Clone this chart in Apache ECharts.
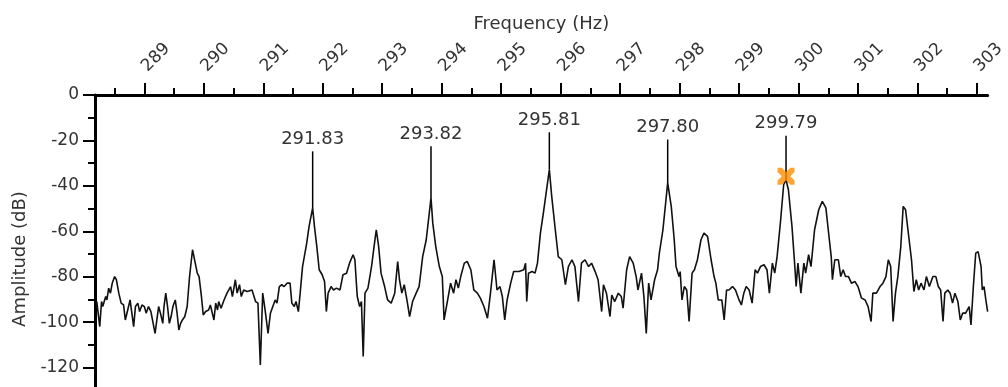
<!DOCTYPE html>
<html>
<head>
<meta charset="utf-8">
<script src="https://cdn.jsdelivr.net/npm/echarts@6/dist/echarts.min.js"></script>
<style>
  html, body { margin: 0; padding: 0; background: #fff; }
  #chart { width: 1008px; height: 387px; }
</style>
</head>
<body>
<div id="chart"></div>
<script>
// spectrum
const freqHz = [
  288.20, 288.25, 288.28, 288.30, 288.35, 288.37, 288.40, 288.43, 288.46, 288.50,
  288.53, 288.57, 288.61, 288.65, 288.68, 288.72, 288.76, 288.79, 288.82, 288.85,
  288.89, 288.92, 288.96, 289.00, 289.03, 289.07, 289.11, 289.18, 289.21, 289.24,
  289.27, 289.31, 289.33, 289.36, 289.39, 289.42, 289.45, 289.48, 289.52, 289.55,
  289.58, 289.61, 289.64, 289.68, 289.72, 289.76, 289.81, 289.84, 289.89, 289.92,
  289.96, 289.99, 290.03, 290.08, 290.11, 290.17, 290.20, 290.23, 290.25, 290.29,
  290.34, 290.39, 290.45, 290.48, 290.53, 290.56, 290.60, 290.63, 290.67, 290.73,
  290.81, 290.87, 290.91, 290.95, 290.99, 291.03, 291.08, 291.12, 291.16, 291.20,
  291.23, 291.27, 291.31, 291.35, 291.40, 291.45, 291.48, 291.52, 291.55, 291.59,
  291.62, 291.66, 291.69, 291.73, 291.77, 291.83, 291.86, 291.90, 291.94, 291.99,
  292.03, 292.06, 292.09, 292.14, 292.18, 292.21,
  292.23, 292.29, 292.34, 292.40, 292.45, 292.51, 292.54, 292.58, 292.62, 292.65,
  292.68, 292.71, 292.76, 292.82, 292.87, 292.90, 292.94, 292.98, 293.04, 293.09,
  293.15, 293.21, 293.26, 293.29, 293.33, 293.37, 293.42, 293.46, 293.51, 293.57,
  293.62, 293.68, 293.74, 293.82, 293.85, 293.90, 293.96, 294.01, 294.04, 294.10,
  294.15, 294.20, 294.24, 294.28, 294.32, 294.38, 294.43, 294.49, 294.54, 294.60,
  294.65, 294.71, 294.77, 294.82, 294.88, 294.93, 294.98, 295.02, 295.06, 295.10,
  295.16, 295.21, 295.30, 295.38, 295.41, 295.43, 295.46, 295.52, 295.57, 295.61,
  295.66, 295.71, 295.81, 295.85, 295.91, 295.96, 296.02, 296.08, 296.13, 296.19,
  296.24, 296.30, 296.35, 296.41, 296.47, 296.52, 296.58, 296.63, 296.69, 296.72,
  296.77, 296.83, 296.86, 296.91, 296.97, 297.02, 297.05, 297.11, 297.16, 297.22,
  297.27, 297.30, 297.36, 297.40, 297.44, 297.48, 297.52, 297.58, 297.63,
  297.66, 297.72, 297.80, 297.86, 297.91, 297.94, 297.99, 298.01, 298.04, 298.08,
  298.12, 298.16, 298.21, 298.25, 298.30, 298.36, 298.41, 298.47, 298.53, 298.58,
  298.61, 298.65, 298.71, 298.75, 298.79, 298.83, 298.89, 298.94, 299.00, 299.04,
  299.08, 299.12, 299.17, 299.22, 299.27, 299.31, 299.36, 299.42, 299.47, 299.51,
  299.56, 299.60, 299.64, 299.70, 299.75, 299.79, 299.83, 299.89, 299.93, 299.96,
  299.99, 300.04, 300.09, 300.12, 300.17, 300.21, 300.27, 300.34, 300.40, 300.46,
  300.50, 300.55, 300.57, 300.61, 300.67, 300.71, 300.75, 300.79, 300.84, 300.89,
  300.95, 301.00, 301.06, 301.12, 301.17, 301.22, 301.25, 301.31, 301.37, 301.42,
  301.47, 301.51, 301.55, 301.59, 301.63, 301.67, 301.72, 301.76, 301.80, 301.84,
  301.90, 301.94, 301.98, 302.02, 302.06, 302.11, 302.15, 302.20, 302.26, 302.31,
  302.35, 302.39, 302.43, 302.46, 302.51, 302.55, 302.59, 302.63, 302.68, 302.72,
  302.76, 302.81, 302.87, 302.90, 302.94, 302.98, 303.02, 303.07, 303.09, 303.12,
  303.15, 303.18
];
const ampDb = [
  -90.9, -101.9, -90.9, -93.1, -88.7, -90.2, -85.0, -87.2, -82.8, -79.9,
  -81.3, -87.2, -91.6, -92.4, -99.0, -94.6, -90.2, -90.9, -101.9, -93.1,
  -91.6, -95.3, -92.4, -93.1, -96.0, -93.1, -95.3, -104.9, -99.0, -93.1,
  -96.0, -100.5, -93.1, -87.2, -93.1, -100.5, -97.5, -93.1, -90.2, -96.0,
  -103.4, -100.5, -99.0, -97.5, -93.1, -79.9, -68.1, -67.4, -78.4, -79.9,
  -88.7, -96.8, -95.3, -94.6, -92.4, -99.0, -91.6, -94.6, -90.9, -93.8,
  -90.2, -87.2, -84.3, -88.7, -81.3, -87.2, -83.5, -88.7, -85.8, -86.5,
  -85.8, -90.9, -91.6, -118.8, -87.2, -94.6, -104.9, -96.0, -93.1, -90.2,
  -91.6, -84.3, -83.5, -84.3, -82.8, -82.8, -91.6, -93.1, -90.9, -95.3,
  -87.2, -75.5, -74.7, -65.2, -57.8, -49.7, -57.8, -66.7, -76.9, -79.1,
  -82.1, -95.3, -87.2, -84.3, -85.8, -85.0,
  -85.0, -85.8, -79.1, -78.4, -74.0, -70.3, -72.5, -88.7, -93.1, -90.9,
  -115.1, -87.2, -85.0, -75.5, -65.2, -59.3, -66.7, -78.4, -84.3, -90.2,
  -91.6, -87.2, -73.3, -81.3, -87.2, -83.5, -90.9, -97.5, -90.9, -87.2,
  -84.3, -71.1, -63.7, -45.3, -56.4, -66.7, -75.5, -79.9, -99.0, -90.2,
  -82.8, -87.2, -81.3, -85.0, -79.9, -74.0, -73.3, -76.9, -85.8, -87.2,
  -89.4, -93.1, -98.2, -87.2, -72.5, -85.8, -84.3, -88.7, -99.0, -90.2,
  -82.8, -77.7, -77.7, -76.9, -74.0, -90.9, -78.4, -77.7, -78.4, -74.0,
  -60.8, -51.9, -32.8, -44.6, -59.3, -71.1, -72.5, -83.5, -75.5, -72.5,
  -75.5, -90.9, -74.0, -72.5, -75.5, -74.0, -77.7, -81.3, -95.3, -83.5,
  -87.2, -97.5, -88.0, -90.9, -87.2, -88.7, -93.8, -76.9, -71.1, -74.0,
  -79.9, -85.8, -78.4, -88.7, -104.9, -82.8, -90.2, -81.3, -76.9,
  -69.6, -59.3, -38.7, -49.0, -63.7, -75.5, -79.9, -77.7, -90.2, -84.3,
  -85.8, -99.7, -78.4, -76.9, -72.5, -63.7, -60.8, -62.2, -72.5, -79.9,
  -82.8, -90.2, -90.2, -99.0, -85.8, -85.8, -84.3, -85.8, -90.2, -92.4,
  -87.2, -84.3, -85.8, -91.6, -76.9, -78.4, -75.5, -74.7, -76.9, -87.2,
  -74.0, -78.4, -71.1, -54.9, -39.5, -37.3, -41.7, -57.8, -72.5, -84.3,
  -74.0, -87.2, -74.0, -78.4, -70.3, -75.5, -59.3, -50.5, -46.8, -49.7,
  -59.3, -71.1, -81.3, -72.5, -72.5, -79.9, -76.9, -79.9, -79.9, -82.8,
  -82.1, -84.3, -89.4, -90.2, -93.1, -99.7, -87.2, -87.2, -84.3, -82.8,
  -79.9, -72.5, -75.5, -99.7, -87.2, -79.9, -66.7, -49.0, -50.5, -59.3,
  -72.5, -86.5, -81.3, -85.8, -82.8, -85.8, -79.9, -84.3, -79.9, -79.9,
  -84.3, -85.8, -99.7, -87.2, -85.8, -87.2, -91.6, -87.2, -90.9, -99.0,
  -96.0, -96.0, -93.1, -101.2, -84.3, -69.6, -68.9, -75.5, -85.8, -84.3,
  -90.2, -95.3
];

// labelled peaks: stem from top down to the spectrum
const peakHz = [291.83, 293.82, 295.81, 297.80, 299.79];
const peakTopDb = [-24.8, -22.6, -16.4, -19.6, -17.9];
const peakBaseDb = [-49.7, -45.3, -32.8, -38.7, -37.3];
const markerPoint = [299.79, -35.8];

// axis ticks
const xMajorTicks = [289, 290, 291, 292, 293, 294, 295, 296, 297, 298, 299, 300, 301, 302, 303];
const xMinorTicks = [288.5, 289.5, 290.5, 291.5, 292.5, 293.5, 294.5, 295.5, 296.5, 297.5, 298.5, 299.5, 300.5, 301.5, 302.5];
const yMajorTicks = [0, -20, -40, -60, -80, -100, -120];
const yMinorTicks = [-10, -30, -50, -70, -90, -110];

(function () {
    let chart = echarts.init(document.getElementById('chart'));

    const font = 'DejaVu Sans';
    const textColor = '#333';
    const xMin = 288.17, xMax = 303.18;
    // the picture is cut just below -128 dB
    const yMin = -128.5, yMax = 0;
    const tickStyle = { color: '#000', width: 2 };

    let option = {
        animation: false,
        grid: { left: 95, right: 15, top: 95, bottom: 0 },
        xAxis: [
            {
                type: 'value', position: 'top', min: xMin, max: xMax,
                name: 'Frequency (Hz)', nameLocation: 'middle', nameGap: 62,
                nameTextStyle: { fontFamily: font, fontSize: 18, color: textColor },
                axisLine: { lineStyle: { color: '#000', width: 3 } },
                axisTick: { customValues: xMajorTicks, length: 12, lineStyle: tickStyle },
                axisLabel: {
                    customValues: xMajorTicks, rotate: 45, margin: 26,
                    fontFamily: font, fontSize: 17, color: textColor
                },
                splitLine: { show: false }
            },
            {
                // minor ticks only
                type: 'value', position: 'top', min: xMin, max: xMax,
                axisLine: { show: false },
                axisTick: { customValues: xMinorTicks, length: 7, lineStyle: tickStyle },
                axisLabel: { show: false },
                splitLine: { show: false }
            }
        ],
        yAxis: [
            {
                type: 'value', min: yMin, max: yMax,
                axisLine: { show: true, lineStyle: { color: '#000', width: 3 } },
                axisTick: { show: true, customValues: yMajorTicks, length: 12, lineStyle: tickStyle },
                axisLabel: { customValues: yMajorTicks, margin: 16, fontFamily: font, fontSize: 17, color: textColor },
                splitLine: { show: false }
            },
            {
                type: 'value', position: 'left', min: yMin, max: yMax,
                axisLine: { show: false },
                axisTick: { show: true, customValues: yMinorTicks, length: 7, lineStyle: tickStyle },
                axisLabel: { show: false },
                splitLine: { show: false }
            }
        ],
        // y title sits lower than the middle of the visible axis
        graphic: [{
            type: 'text', x: 20, y: 259, rotation: Math.PI / 2,
            style: {
                text: 'Amplitude (dB)', align: 'center', verticalAlign: 'middle',
                fontFamily: font, fontSize: 18, fill: textColor
            }
        }],
        series: [
            {
                type: 'line',
                data: freqHz.map((f, i) => [f, ampDb[i]]),
                showSymbol: false,
                lineStyle: { color: '#111', width: 1.6 },
                z: 2
            },
            {
                type: 'custom',
                data: peakHz.map((f, i) => [f, peakTopDb[i], peakBaseDb[i]]),
                renderItem: function (params, api) {
                    const top = api.coord([api.value(0), api.value(1)]);
                    const base = api.coord([api.value(0), api.value(2)]);
                    return {
                        type: 'group',
                        children: [
                            {
                                type: 'line',
                                shape: { x1: top[0], y1: top[1], x2: base[0], y2: base[1] },
                                style: { stroke: '#000', lineWidth: 1.5 }
                            },
                            {
                                type: 'text',
                                x: top[0], y: top[1] - 3,
                                style: {
                                    text: api.value(0).toFixed(2),
                                    align: 'center', verticalAlign: 'bottom',
                                    fontFamily: font, fontSize: 18, fill: textColor
                                }
                            }
                        ]
                    };
                },
                z: 3
            },
            {
                type: 'scatter',
                data: [markerPoint],
                symbol: 'path://M0,0 L5,0 L10,5 L15,0 L20,0 L20,5 L15,10 L20,15 L20,20 L15,20 L10,15 L5,20 L0,20 L0,15 L5,10 L0,5 Z',
                symbolSize: 17,
                itemStyle: { color: '#ff8c00' },
                z: 4
            }
        ]
    };

    chart.setOption(option);
})();
</script>
</body>
</html>
